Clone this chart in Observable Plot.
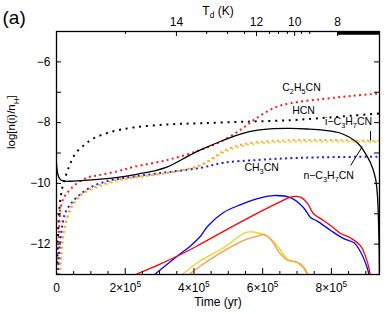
<!DOCTYPE html>
<html><head><meta charset="utf-8">
<script src="https://cdn.jsdelivr.net/npm/d3@7"></script>
<script src="https://cdn.jsdelivr.net/npm/@observablehq/plot@0.6"></script>
<style>body{margin:0;background:#fff}svg{display:block}</style>
</head><body><div id="chart"></div>
<script>
// ---- data: [time (yr), log n(i)/nH] ----
const hcn = [[0,-13.3],[3e3,-12.2],[6e3,-11.3],[1e4,-10.65],[1.5e4,-10.25],[2e4,-10.0],[3e4,-9.65],[4e4,-9.35],[5.5e4,-9.02],[8e4,-8.74],[1.08e5,-8.52],[1.57e5,-8.31],[2.24e5,-8.16],[3.23e5,-8.06],[4.2e5,-8.02],[5.5e5,-7.97],[6.8e5,-7.92],[7.8e5,-7.84],[8.6e5,-7.77],[9.4e5,-7.7]];
const c2h5cn = [[3e3,-13.2],[6e3,-12.0],[9e3,-11.2],[1.2e4,-10.8],[2e4,-10.5],[3.2e4,-10.3],[5.5e4,-10.04],[9e4,-9.81],[1.28e5,-9.72],[1.78e5,-9.6],[2.24e5,-9.46],[3.23e5,-9.23],[4.19e5,-8.9],[4.86e5,-8.58],[5.4e5,-8.2],[5.85e5,-7.83],[6.32e5,-7.52],[6.81e5,-7.36],[7.77e5,-7.22],[8.6e5,-7.12],[9.4e5,-7.04]];
const ch3cn = [[5e3,-13.2],[8e3,-12.4],[1.2e4,-11.8],[1.8e4,-11.3],[2.6e4,-10.95],[4e4,-10.7],[6e4,-10.45],[9.9e4,-10.13],[1.57e5,-9.9],[2.24e5,-9.78],[3.23e5,-9.63],[4.19e5,-9.49],[4.86e5,-9.32],[5.85e5,-9.23],[6.81e5,-9.17],[7.77e5,-9.14],[9.4e5,-9.12]];
const iC3h7cnA = [[8e3,-13.2],[1.2e4,-12.5],[1.8e4,-11.8],[2.6e4,-11.3],[4.1e4,-10.8],[6e4,-10.5],[7.9e4,-10.3],[1.28e5,-10.05],[1.78e5,-9.88],[2.24e5,-9.8],[3.23e5,-9.65],[4.19e5,-9.4],[4.6e5,-9.12],[4.86e5,-8.93],[5.3e5,-8.75],[5.85e5,-8.64],[6.81e5,-8.58],[7.77e5,-8.57],[9.4e5,-8.6]];
const iC3h7cnB = [[9e3,-13.2],[1.3e4,-12.5],[1.9e4,-11.85],[2.7e4,-11.35],[4.2e4,-10.85],[6e4,-10.55],[8e4,-10.33],[1.28e5,-10.1],[1.78e5,-9.92],[2.24e5,-9.82],[3.23e5,-9.66],[4.19e5,-9.42],[4.6e5,-9.16],[4.86e5,-8.98],[5.3e5,-8.8],[5.85e5,-8.69],[6.81e5,-8.63],[7.77e5,-8.62],[9.4e5,-8.64]];
const nC3h7cn = [[0,-9.35],[4e3,-9.7],[1e4,-9.86],[2e4,-9.92],[4e4,-9.93],[8e4,-9.9],[1.28e5,-9.86],[1.78e5,-9.8],[2.24e5,-9.72],[2.8e5,-9.6],[3.23e5,-9.46],[3.9e5,-9.06],[4.19e5,-8.9],[4.86e5,-8.58],[5.4e5,-8.36],[5.85e5,-8.25],[6.3e5,-8.2],[6.81e5,-8.19],[7.3e5,-8.21],[7.77e5,-8.25],[8.27e5,-8.35],[8.76e5,-8.67],[9.05e5,-9.13],[9.2e5,-9.5],[9.29e5,-9.88],[9.34e5,-10.4],[9.37e5,-11.2],[9.39e5,-12.2],[9.4e5,-13.2]];
const blueSolid = [[2.8e5,-13.05],[3.52e5,-12.39],[3.9e5,-12.06],[4.19e5,-11.74],[4.4e5,-11.41],[4.86e5,-10.96],[5.36e5,-10.7],[5.85e5,-10.5],[6.32e5,-10.4],[6.81e5,-10.47],[7.19e5,-10.8],[7.39e5,-11.12],[7.6e5,-11.25],[7.98e5,-11.55],[8.36e5,-11.82],[8.65e5,-11.95],[8.85e5,-12.26],[9.05e5,-12.81],[9.1e5,-13.05]];
const redSolid = [[2.2e5,-13.05],[3.03e5,-12.65],[3.76e5,-12.26],[4.19e5,-12.0],[4.86e5,-11.58],[5.85e5,-10.98],[6.52e5,-10.6],[6.81e5,-10.45],[7.1e5,-10.45],[7.3e5,-10.65],[7.48e5,-11.0],[7.77e5,-11.22],[8.05e5,-11.45],[8.27e5,-11.65],[8.56e5,-11.8],[8.85e5,-12.06],[9.05e5,-12.6],[9.14e5,-13.05]];
const yellowSolid = [[3.6e5,-13.05],[4.19e5,-12.55],[4.86e5,-12.12],[5.5e5,-11.62],[5.7e5,-11.6],[5.85e5,-11.63],[6.14e5,-11.74],[6.43e5,-12.06],[6.72e5,-12.5],[7.02e5,-12.62],[7.19e5,-12.8],[7.31e5,-13.05]];
const orangeSolid = [[3.8e5,-13.05],[4.19e5,-12.72],[4.86e5,-12.23],[5.5e5,-11.85],[5.85e5,-11.74],[6.03e5,-11.68],[6.23e5,-11.84],[6.52e5,-12.33],[6.72e5,-12.53],[7.02e5,-12.6],[7.19e5,-12.75],[7.34e5,-13.05]];

// ---- axes / tick labels ----
const xLabelTicks = [0, 2e5, 4e5, 6e5, 8e5];
const xMinorTicks = [5e4,1e5,1.5e5,2.5e5,3e5,3.5e5,4.5e5,5e5,5.5e5,6.5e5,7e5,7.5e5,8.5e5,9e5];
const yLabelTicks = [-6, -8, -10, -12];
const yTicks = [-12, -11, -10, -9, -8, -7, -6];
const tdMinorTimes = [2.01e5, 4.37e5, 4.98e5, 5.47e5, 6.20e5, 6.46e5, 6.72e5, 7.13e5, 7.37e5];
const tdLabelTimes = [3.49e5, 5.82e5, 6.93e5, 8.18e5];
const tdLabels = ["14", "12", "10", "8"];

// ---- species labels ----
const speciesLabels = [
  {t: 7.13e5, v: -6.84, text: "C_2H_5CN"},
  {t: 7.19e5, v: -7.60, text: "HCN"},
  {t: 8.50e5, v: -7.97, text: "i\u2212C_3H_7CN"},
  {t: 5.97e5, v: -9.48, text: "CH_3CN"},
  {t: 7.92e5, v: -9.74, text: "n\u2212C_3H_7CN"}
];
const leaders = [
  {t1: 9.14e5, v1: -8.28, t2: 9.14e5, v2: -8.59},
  {t1: 8.56e5, v1: -9.41, t2: 8.90e5, v2: -8.79}
];

const W = 388, H = 314, ML = 56, MR = 9, MT = 31, MB = 40;
const xDomain = [0, 9.4e5], yDomain = [-13, -5];
const pxX = (xDomain[1] - xDomain[0]) / (W - ML - MR);
const pxY = (yDomain[1] - yDomain[0]) / (H - MT - MB);

const fmtX = d => d === 0 ? "0" : `${d / 1e5}\u00d710^5`;
const fmtY = d => d < 0 ? "\u2212" + (-d) : String(d);

const P = (data, o) => Plot.line(data, {x: d => d[0], y: d => d[1], curve: "catmull-rom", clip: true, strokeLinecap: "butt", ...o});
const DOT = {strokeWidth: 2, strokeDasharray: "2 3.3"};

const chart = Plot.plot({
  width: W, height: H,
  marginLeft: ML, marginRight: MR, marginTop: MT, marginBottom: MB,
  x: {domain: xDomain, axis: null},
  y: {domain: yDomain, axis: null},
  style: {fontFamily: "'Liberation Sans', Arial, sans-serif", fontSize: "12px", color: "black", background: "white"},
  marks: [
    // dotted
    P(hcn, {stroke: "#000", strokeWidth: 2, strokeDasharray: "2 4.8"}),
    P(c2h5cn, {stroke: "#ff1a1a", ...DOT}),
    P(ch3cn, {stroke: "#1a1aff", ...DOT}),
    P(iC3h7cnB, {stroke: "#e6d625", ...DOT}),
    P(iC3h7cnA, {stroke: "#ffa040", ...DOT}),
    // solid
    P(nC3h7cn, {stroke: "#000", strokeWidth: 1.3}),
    P(yellowSolid, {stroke: "#e3d520", strokeWidth: 1.3}),
    P(orangeSolid, {stroke: "#ff9a40", strokeWidth: 1.3}),
    P(blueSolid, {stroke: "#0000ff", strokeWidth: 1.3}),
    P(redSolid, {stroke: "#ff0000", strokeWidth: 1.3}),
    // frame
    Plot.frame({stroke: "#000", strokeWidth: 1.3}),
    // bottom ticks
    Plot.ruleX(xLabelTicks, {x: d => d, y1: yDomain[0], y2: yDomain[0] + 6 * pxY, stroke: "#000"}),
    Plot.ruleX(xMinorTicks, {x: d => d, y1: yDomain[0], y2: yDomain[0] + 3 * pxY, stroke: "#000"}),
    // left & right ticks
    Plot.ruleY(yTicks, {y: d => d, x1: xDomain[0], x2: xDomain[0] + 5 * pxX, stroke: "#000"}),
    Plot.ruleY(yTicks, {y: d => d, x1: xDomain[1] - 5 * pxX, x2: xDomain[1], stroke: "#000"}),
    // top Td ticks
    Plot.ruleX(tdLabelTimes, {x: d => d, y1: yDomain[1], y2: yDomain[1] - 5 * pxY, stroke: "#000"}),
    Plot.ruleX(tdMinorTimes, {x: d => d, y1: yDomain[1], y2: yDomain[1] - 3 * pxY, stroke: "#000"}),
    Plot.ruleY([yDomain[1]], {x1: tdLabelTimes[tdLabelTimes.length - 1], x2: xDomain[1], stroke: "#000", strokeWidth: 3.5, dy: 1.5}),
    // tick labels
    Plot.text(xLabelTicks, {x: d => d, text: fmtX, frameAnchor: "bottom", lineAnchor: "top", dy: 9, fontSize: 12}),
    Plot.text(yLabelTicks, {y: d => d, text: fmtY, frameAnchor: "left", textAnchor: "end", dx: -6, fontSize: 12}),
    Plot.text(tdLabelTimes, {x: d => d, text: (d, i) => tdLabels[i], frameAnchor: "top", lineAnchor: "bottom", dy: -6, fontSize: 12}),
    // axis titles
    Plot.text(["Time (yr)"], {frameAnchor: "bottom", lineAnchor: "bottom", dy: 31, fontSize: 12}),
    Plot.text(["T_d (K)"], {frameAnchor: "top", lineAnchor: "bottom", dy: -17, fontSize: 12}),
    Plot.text(["log[n(i)/n_H]"], {frameAnchor: "left", rotate: -90, dx: -45, dy: -4, fontSize: 11.5}),
    Plot.text(["(a)"], {frameAnchor: "top-left", textAnchor: "start", lineAnchor: "bottom", dx: -54, dy: -8, fontSize: 19}),
    // species labels & leaders
    Plot.text(speciesLabels, {x: "t", y: "v", text: "text", fontSize: 10.5}),
    Plot.link(leaders, {x1: "t1", y1: "v1", x2: "t2", y2: "v2", stroke: "#000", strokeWidth: 1})
  ]
});

// turn _x / ^x into sub/superscript tspans
const NS = "http://www.w3.org/2000/svg";
for (const t of chart.querySelectorAll("text")) {
  const s = t.textContent;
  if (!/[_^]/.test(s) || t.querySelector("tspan")) continue;
  const parts = s.split(/([_^].)/).filter(p => p);
  t.textContent = "";
  let pending = 0;
  for (const p of parts) {
    const ts = document.createElementNS(NS, "tspan");
    if (p[0] === "_" || p[0] === "^") {
      const sh = p[0] === "_" ? 0.3 : -0.42;
      ts.setAttribute("font-size", "70%");
      ts.setAttribute("dy", ((sh - pending) / 0.7).toFixed(3) + "em");
      ts.textContent = p[1];
      pending = sh;
    } else {
      if (pending) ts.setAttribute("dy", (-pending) + "em");
      pending = 0;
      ts.textContent = p;
    }
    t.appendChild(ts);
  }
}
document.getElementById("chart").appendChild(chart);
</script>
</body></html>
